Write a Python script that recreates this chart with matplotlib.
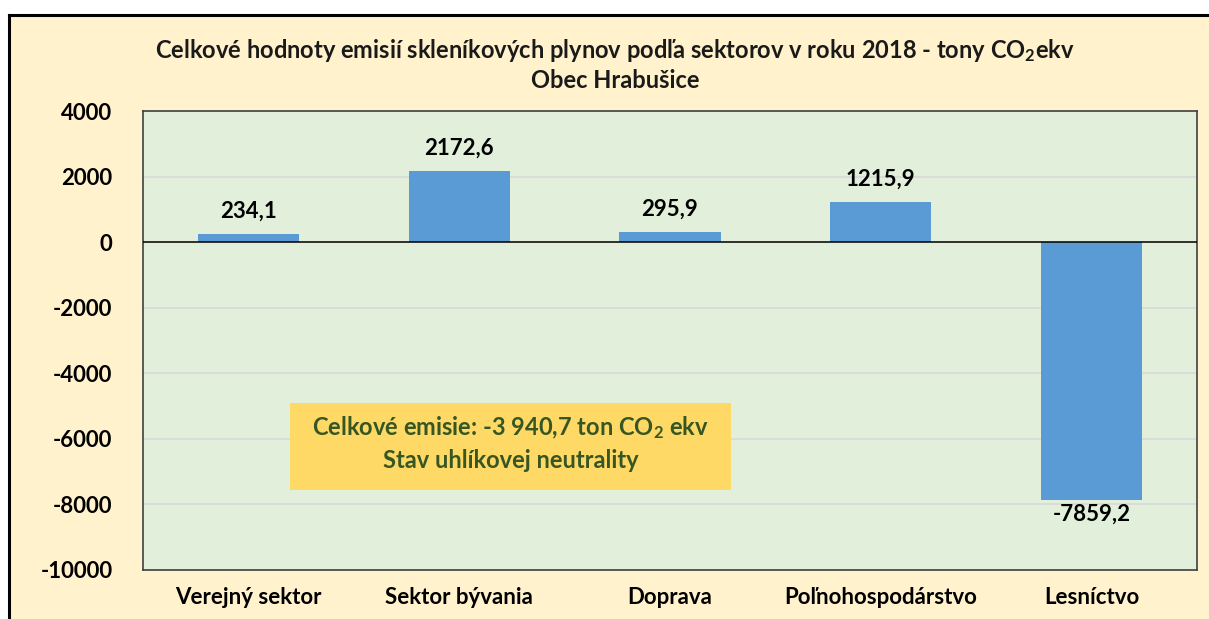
import matplotlib
matplotlib.use("Agg")
import matplotlib.pyplot as plt
from matplotlib.patches import Rectangle
from matplotlib.lines import Line2D

categories = ["Verejný sektor", "Sektor bývania", "Doprava", "Poľnohospodárstvo", "Lesníctvo"]
values = [234.1, 2172.6, 295.9, 1215.9, -7859.2]
yticks = [4000, 2000, 0, -2000, -4000, -6000, -8000, -10000]
title_line1 = "Celkové hodnoty emisií skleníkových plynov podľa sektorov v roku 2018 - tony CO$_2$ekv"
title_line2 = "Obec Hrabušice"
box_line1 = "Celkové emisie: -3 940,7 ton CO$_2$ ekv"
box_line2 = "Stav uhlíkovej neutrality"

plt.rcParams['font.family'] = ['Lato', 'DejaVu Sans']
plt.rcParams['mathtext.fontset'] = 'custom'
plt.rcParams['mathtext.rm'] = 'Lato:bold'
plt.rcParams['mathtext.it'] = 'Lato:bold'
plt.rcParams['mathtext.bf'] = 'Lato:bold'
plt.rcParams['mathtext.default'] = 'rm'

W, H = 1209, 619
fig = plt.figure(figsize=(W / 100, H / 100), dpi=100)
fig.patch.set_facecolor('white')

# cream chart area with black border (top and left visible)
fig.patches.append(Rectangle((9 / W, 0), 1 - 9 / W, 1 - 15 / H, transform=fig.transFigure,
                             facecolor='#FFF2CC', edgecolor='none', zorder=0))
fig.lines.append(Line2D([9 / W, 1], [1 - 15 / H, 1 - 15 / H], transform=fig.transFigure,
                        color='black', lw=2.2, zorder=1))
fig.lines.append(Line2D([9 / W, 9 / W], [0, 1 - 15 / H], transform=fig.transFigure,
                        color='black', lw=2.2, zorder=1))

left, right, top, bottom = 143, 1197, 111, 570
ax = fig.add_axes([left / W, 1 - bottom / H, (right - left) / W, (bottom - top) / H])
ax.set_zorder(2)
ax.set_facecolor('#E2EFDA')
for s in ax.spines.values():
    s.set_color('#404040')
    s.set_linewidth(1.2)

x = list(range(len(categories)))
ax.bar(x, values, width=0.48, color='#5B9BD5', zorder=3)
ax.set_xlim(-0.5, len(categories) - 0.5)
ax.set_ylim(-10000, 4000)
ax.set_yticks(yticks)
ax.set_yticklabels([str(t) for t in yticks], fontsize=16, fontweight='bold')
ax.set_xticks(x)
ax.set_xticklabels(categories, fontsize=16, fontweight='bold')
ax.tick_params(axis='both', length=0, colors='black')
ax.tick_params(axis='y', pad=22)
ax.tick_params(axis='x', pad=12)
ax.grid(axis='y', color='#D9D9D9', lw=1.2, zorder=0)
ax.set_axisbelow(True)
ax.axhline(0, color='black', lw=1.1, zorder=4)

for xi, v in zip(x, values):
    lbl = f"{v:.1f}".replace('.', ',')
    if v >= 0:
        ax.annotate(lbl, (xi, v), xytext=(0, 9), textcoords='offset points',
                    ha='center', va='bottom', fontsize=16, fontweight='bold', zorder=5)
    else:
        ax.annotate(lbl, (xi, v), xytext=(0, -3), textcoords='offset points',
                    ha='center', va='top', fontsize=16, fontweight='bold', zorder=5)

# title
fig.text(615 / W, 1 - 50 / H, title_line1, ha='center', va='center', fontsize=17,
         fontweight='bold', color='#1a1a1a', zorder=3)
fig.text(615 / W, 1 - 80 / H, title_line2, ha='center', va='center', fontsize=17,
         fontweight='bold', color='#1a1a1a', zorder=3)

# yellow text box
bx0, bx1, by0, by1 = 290, 731, 403, 490
fig.patches.append(Rectangle((bx0 / W, 1 - by1 / H), (bx1 - bx0) / W, (by1 - by0) / H,
                             transform=fig.transFigure, facecolor='#FFD966', edgecolor='none', zorder=5))
fig.text((bx0 + bx1) / 2 / W, 1 - 428 / H, box_line1, ha='center', va='center', fontsize=17,
         fontweight='bold', color='#375623', zorder=6)
fig.text((bx0 + bx1) / 2 / W, 1 - 461 / H, box_line2, ha='center', va='center', fontsize=17,
         fontweight='bold', color='#375623', zorder=6)

fig.savefig('out.png', dpi=100, facecolor=fig.get_facecolor())
